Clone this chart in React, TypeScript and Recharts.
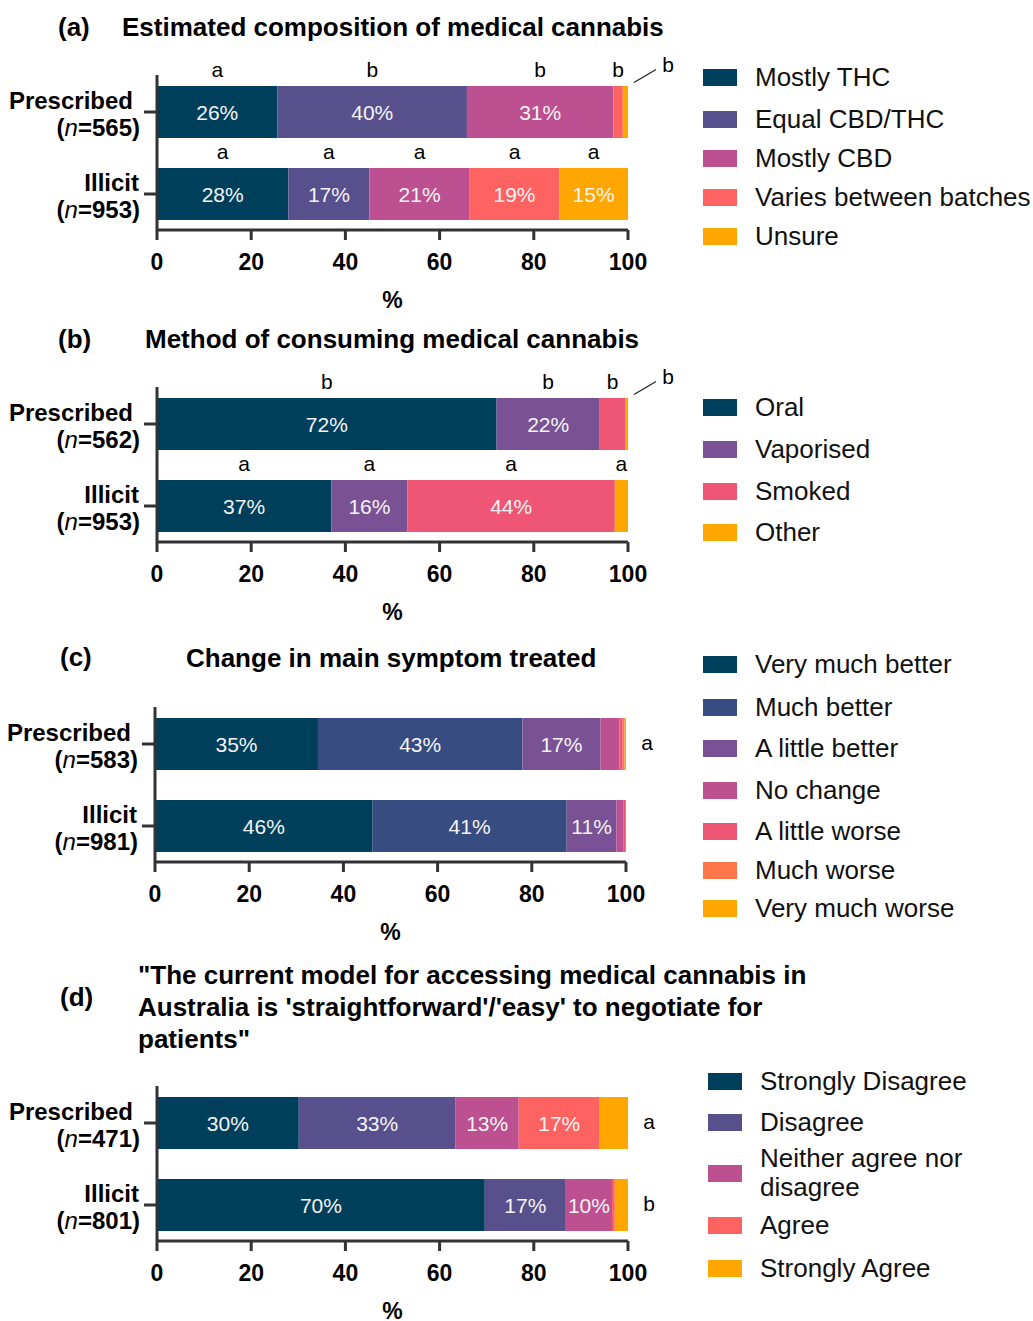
import React from 'react'
import { BarChart, Bar, XAxis, YAxis, LabelList } from 'recharts'

const FONT = '"Liberation Sans", Arial, Helvetica, sans-serif'
const AXIS = '#333333'

// shared
const groups = ['Prescribed', 'Illicit']
const xTicks = [0, 20, 40, 60, 80, 100]

// (a) composition
const aN = [565, 953]
const aSeries = ['Mostly THC', 'Equal CBD/THC', 'Mostly CBD', 'Varies between batches', 'Unsure']
const aColors = ['#003f5c', '#58508d', '#bc5090', '#ff6361', '#ffa600']
const aPrescribed = [25.6, 40.2, 31.1, 2.0, 1.1]
const aIllicit = [27.9, 17.2, 21.3, 19.0, 14.6]
const aPrescribedLetters = ['a', 'b', 'b', 'b', 'b']
const aIllicitLetters = ['a', 'a', 'a', 'a', 'a']

// (b) method of consumption
const bN = [562, 953]
const bSeries = ['Oral', 'Vaporised', 'Smoked', 'Other']
const bColors = ['#003f5c', '#7a5195', '#ef5675', '#ffa600']
const bPrescribed = [72.1, 21.9, 5.5, 0.5]
const bIllicit = [37.0, 16.2, 44.0, 2.8]
const bPrescribedLetters = ['b', 'b', 'b', 'b']
const bIllicitLetters = ['a', 'a', 'a', 'a']

// (c) change in symptom
const cN = [583, 981]
const cSeries = ['Very much better', 'Much better', 'A little better', 'No change', 'A little worse', 'Much worse', 'Very much worse']
const cColors = ['#003f5c', '#374c80', '#7a5195', '#bc5090', '#ef5675', '#ff764a', '#ffa600']
const cPrescribed = [34.6, 43.4, 16.6, 4.0, 0.7, 0.4, 0.3]
const cIllicit = [46.2, 41.2, 10.6, 1.4, 0.4, 0.2, 0]
const cRowLetters = ['a', 'b']

// (d) access model
const dN = [471, 801]
const dSeries = ['Strongly Disagree', 'Disagree', 'Neither agree nor disagree', 'Agree', 'Strongly Agree']
const dColors = ['#003f5c', '#58508d', '#bc5090', '#ff6361', '#ffa600']
const dPrescribed = [30.1, 33.3, 13.4, 17.2, 6.0]
const dIllicit = [69.6, 17.2, 9.8, 0.6, 2.8]
const dRowLetters = ['a', 'b']

const PLOT_W = 471
const PLOT_H = 155
const MARGIN_TOP = 40
const X_AXIS_H = 60
const CHART_W = 720

const ValueLabel = (props: any) => {
    const { x, y, width, height, value } = props
    const v = Math.round(Number(value))
    if (!(v >= 10)) return null
    return (
        <text x={Number(x) + Number(width) / 2} y={Number(y) + Number(height) / 2} dy="0.36em"
            textAnchor="middle" fill="#f4f4f4" fontSize={21} fontFamily={FONT}>
            {v}%
        </text>
    )
}

const LetterLabel = (props: any) => {
    const { x, y, width, value } = props
    if (!value) return null
    const X = Number(x), Y = Number(y), W = Number(width)
    if (W < 7) {
        // tiny segment: letter pulled out to the right with a leader line
        const end = X + W
        return (
            <g>
                <line x1={end + 6} y1={Y - 3.5} x2={end + 28} y2={Y - 16.5} stroke="#222" strokeWidth={1.3} />
                <text x={end + 40} y={Y - 14.5} textAnchor="middle" fontSize={21} fill="#000" fontFamily={FONT}>{value}</text>
            </g>
        )
    }
    return (
        <text x={X + W / 2} y={Y - 9} textAnchor="middle" fontSize={21} fill="#000" fontFamily={FONT}>{value}</text>
    )
}

const RowLetterLabel = (props: any) => {
    const { x, y, width, height, value } = props
    if (!value) return null
    return (
        <text x={Number(x) + Number(width) + 21} y={Number(y) + Number(height) / 2} dy="0.3em"
            textAnchor="middle" fontSize={21} fill="#000" fontFamily={FONT}>{value}</text>
    )
}

const GroupTick = (props: any) => {
    const { x, y, payload, ns } = props
    const i = groups.indexOf(payload.value)
    const shift = i === 0 ? 9 : 3
    return (
        <g fontFamily={FONT} fontSize={24} fontWeight={700} fill="#000">
            <text x={x - shift} y={y - 12} dy="0.36em" textAnchor="end">{payload.value}</text>
            <text x={x - 2} y={y + 15} dy="0.36em" textAnchor="end">
                (<tspan fontStyle="italic" fontWeight={400}>n</tspan>={ns[i]})
            </text>
        </g>
    )
}

interface PanelProps {
    top: number
    plotLeft: number
    ns: number[]
    colors: string[]
    values: number[][]
    segLetters?: string[][]
    rowLetters?: string[]
}

function Panel({ top, plotLeft, ns, colors, values, segLetters, rowLetters }: PanelProps) {
    const rows = groups.map((g, i) => {
        const r: any = { name: g }
        values[i].forEach((v, k) => {
            r[`s${k}`] = v
            if (segLetters) r[`l${k}`] = segLetters[i][k]
        })
        if (rowLetters) r.rowLetter = rowLetters[i]
        return r
    })

    return (
        <div style={{ position: 'absolute', left: 0, top: top - MARGIN_TOP }}>
            <BarChart
                layout="vertical"
                width={CHART_W}
                height={MARGIN_TOP + PLOT_H + X_AXIS_H}
                data={rows}
                barSize={52}
                margin={{ top: MARGIN_TOP, right: CHART_W - plotLeft - PLOT_W, bottom: 0, left: 0 }}
            >
                <XAxis
                    type="number"
                    domain={[0, 100]}
                    ticks={xTicks}
                    height={X_AXIS_H}
                    tickSize={10}
                    tickMargin={14}
                    axisLine={{ stroke: AXIS, strokeWidth: 3 }}
                    tickLine={{ stroke: AXIS, strokeWidth: 3 }}
                    tick={{ fill: '#000', fontSize: 23, fontWeight: 700, fontFamily: FONT }}
                />
                <YAxis
                    type="category"
                    dataKey="name"
                    width={plotLeft}
                    tickSize={13}
                    interval={0}
                    padding={{ top: -4, bottom: -5 }}
                    axisLine={{ stroke: AXIS, strokeWidth: 3 }}
                    tickLine={{ stroke: AXIS, strokeWidth: 3 }}
                    tick={<GroupTick ns={ns} />}
                />
                {colors.map((c, k) => (
                    <Bar key={k} dataKey={`s${k}`} stackId="s" fill={c} isAnimationActive={false}>
                        <LabelList dataKey={`s${k}`} content={ValueLabel} />
                        {segLetters && <LabelList dataKey={`l${k}`} content={LetterLabel} />}
                        {rowLetters && k === colors.length - 1 && <LabelList dataKey="rowLetter" content={RowLetterLabel} />}
                    </Bar>
                ))}
            </BarChart>
            <div style={{
                position: 'absolute', left: plotLeft, width: PLOT_W, top: MARGIN_TOP + PLOT_H + 70 - 13,
                lineHeight: '26px', textAlign: 'center', fontWeight: 700, fontSize: 23
            }}>%</div>
        </div>
    )
}

function Legend({ items, colors, cys, left, wrapAt = 300 }: { items: string[]; colors: string[]; cys: number[]; left: number; wrapAt?: number }) {
    return (
        <>
            {items.map((it, i) => {
                const twoLine = it.length * 12 > wrapAt
                const h = twoLine ? 58 : 29
                return (
                    <div key={it} style={{
                        position: 'absolute', left, top: cys[i] - h / 2, height: h,
                        display: 'flex', alignItems: 'center'
                    }}>
                        <div style={{ width: 34, height: 17, background: colors[i], flex: 'none' }} />
                        <div style={{
                            marginLeft: 18, fontSize: 26, lineHeight: '29px', color: '#111',
                            maxWidth: wrapAt, whiteSpace: twoLine ? 'normal' : 'nowrap'
                        }}>{it}</div>
                    </div>
                )
            })}
        </>
    )
}

const headStyle: React.CSSProperties = {
    position: 'absolute', fontWeight: 700, fontSize: 26, lineHeight: '32px', whiteSpace: 'nowrap', color: '#000'
}

export default function App() {
    return (
        <div style={{
            position: 'absolute', left: 0, top: 0, width: 1033, height: 1321,
            background: '#fff', fontFamily: FONT, overflow: 'hidden'
        }}>
            <div style={{ ...headStyle, left: 58, top: 27 - 16 }}>(a)</div>
            <div style={{ ...headStyle, left: 122, top: 27 - 16 }}>Estimated composition of medical cannabis</div>
            <Panel top={75} plotLeft={157} ns={aN} colors={aColors}
                values={[aPrescribed, aIllicit]} segLetters={[aPrescribedLetters, aIllicitLetters]} />
            <Legend items={aSeries} colors={aColors} cys={[77, 119, 158, 197, 236]} left={703} />

            <div style={{ ...headStyle, left: 58, top: 339 - 16 }}>(b)</div>
            <div style={{ ...headStyle, left: 145, top: 339 - 16 }}>Method of consuming medical cannabis</div>
            <Panel top={387} plotLeft={157} ns={bN} colors={bColors}
                values={[bPrescribed, bIllicit]} segLetters={[bPrescribedLetters, bIllicitLetters]} />
            <Legend items={bSeries} colors={bColors} cys={[407, 449, 491, 532]} left={703} />

            <div style={{ ...headStyle, left: 60, top: 657 - 16 }}>(c)</div>
            <div style={{ ...headStyle, left: 186, top: 658 - 16 }}>Change in main symptom treated</div>
            <Panel top={707} plotLeft={155} ns={cN} colors={cColors}
                values={[cPrescribed, cIllicit]} rowLetters={cRowLetters} />
            <Legend items={cSeries} colors={cColors} cys={[664, 707, 748, 790, 831, 870, 908]} left={703} />

            <div style={{ ...headStyle, left: 60, top: 997 - 16 }}>(d)</div>
            <div style={{ ...headStyle, left: 138, top: 975 - 16 }}>
                "The current model for accessing medical cannabis in<br />
                Australia is 'straightforward'/'easy' to negotiate for<br />
                patients"
            </div>
            <Panel top={1086} plotLeft={157} ns={dN} colors={dColors}
                values={[dPrescribed, dIllicit]} rowLetters={dRowLetters} />
            <Legend items={dSeries} colors={dColors} cys={[1081, 1122, 1173, 1225, 1268]} left={708} wrapAt={250} />
        </div>
    )
}
